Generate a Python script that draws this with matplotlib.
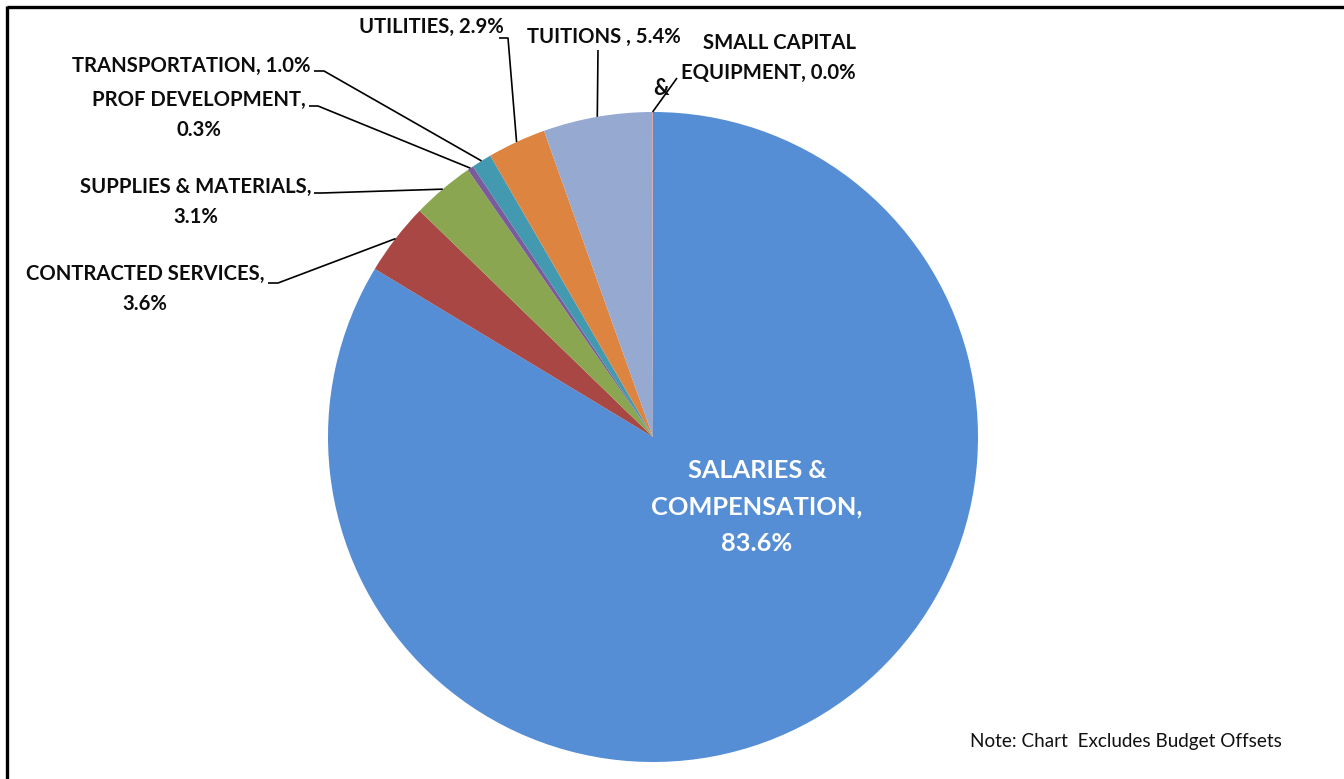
import matplotlib

matplotlib.use("Agg")
import matplotlib.pyplot as plt
import numpy as np

plt.rcParams["font.family"] = ["Lato", "DejaVu Sans"]

# Budget shares by expense category (percent of total)
categories = [
    "SALARIES & COMPENSATION",
    "CONTRACTED SERVICES",
    "SUPPLIES & MATERIALS",
    "PROF DEVELOPMENT",
    "TRANSPORTATION",
    "UTILITIES",
    "TUITIONS ",
    "SMALL CAPITAL EQUIPMENT",
]
shares = [83.6, 3.6, 3.1, 0.3, 1.0, 2.9, 5.4, 0.04]
colors = ["#558ED5", "#A84744", "#8BA650", "#7A5C9C", "#4299B0", "#DD8440", "#95A9D1", "#D99694"]

# How each label is wrapped; {} takes the percentage
label_fmt = [
    "SALARIES &\nCOMPENSATION,\n{}",
    "CONTRACTED SERVICES,\n{}",
    "SUPPLIES & MATERIALS,\n{}",
    "PROF DEVELOPMENT,\n{}",
    "TRANSPORTATION, {}",
    "UTILITIES, {}",
    "TUITIONS , {}",
    "SMALL CAPITAL\nEQUIPMENT, {}",
]

W, H = 1344, 779
CENTER = (653, 437)
RADIUS = 325

# label placement in pixel space: (x, y, ha), leader path from label to the wedge edge
label_pos = [
    (757, 507, "center"),
    (145, 289, "center"),
    (196, 202, "center"),
    (199, 115, "center"),
    (310, 66, "right"),
    (504, 27, "right"),
    (604, 37, "center"),
    (856, 58, "right"),
]
leader_start = [
    None,
    [(268, 283), (278, 283)],
    [(314, 193), (322, 193)],
    [(309, 106), (318, 106)],
    [(314, 71), (324, 71)],
    [(499, 38), (508, 38)],
    [(598, 50), (598, 50)],
    [(677, 78), (677, 78)],
]

fig = plt.figure(figsize=(W / 100, H / 100), dpi=100)
ax = fig.add_axes([0, 0, 1, 1])

# with y flipped, data-counterclockwise reads as clockwise on screen
wedges, _ = ax.pie(
    shares,
    colors=colors,
    center=CENTER,
    radius=RADIUS,
    startangle=-90,
    counterclock=True,
    wedgeprops=dict(linewidth=0),
    frame=True,
)
ax.set_xlim(0, W)
ax.set_ylim(H, 0)  # pixel-style coordinates, y grows downward
ax.set_aspect("equal")
ax.axis("off")

for i, (w, val) in enumerate(zip(wedges, shares)):
    text = label_fmt[i].format(f"{val:.1f}%")
    x, y, ha = label_pos[i]
    if i == 0:
        ax.text(x, y, text, ha="center", va="center", color="white",
                fontsize=18.3, fontweight="bold", linespacing=1.7)
        continue
    ax.text(x, y, text, ha=ha, va="center", multialignment="center" if ha == "center" else ha,
            color="#0d0d0d", fontsize=14.6, fontweight="bold", linespacing=1.62)
    mid = np.deg2rad((w.theta1 + w.theta2) / 2)
    edge = (CENTER[0] + RADIUS * np.cos(mid), CENTER[1] + RADIUS * np.sin(mid))
    pts = leader_start[i] + [edge]
    ax.plot([p[0] for p in pts], [p[1] for p in pts], color="black", lw=1.2,
            solid_capstyle="butt")

# stray ampersand from the wrapped small-capital label
ax.text(661, 88, "&", ha="center", va="center", color="#0d0d0d",
        fontsize=15.5, fontweight="bold")

ax.text(1126, 741, "Note: Chart  Excludes Budget Offsets", ha="center", va="center",
        color="#111111", fontsize=13.6)

# chart border (runs off the right and bottom edges)
ax.plot([7, W + 5], [7, 7], color="black", lw=2.4, solid_capstyle="butt")
ax.plot([7, 7], [6, H + 5], color="black", lw=2.4, solid_capstyle="butt")

fig.savefig("out.png", dpi=100)
